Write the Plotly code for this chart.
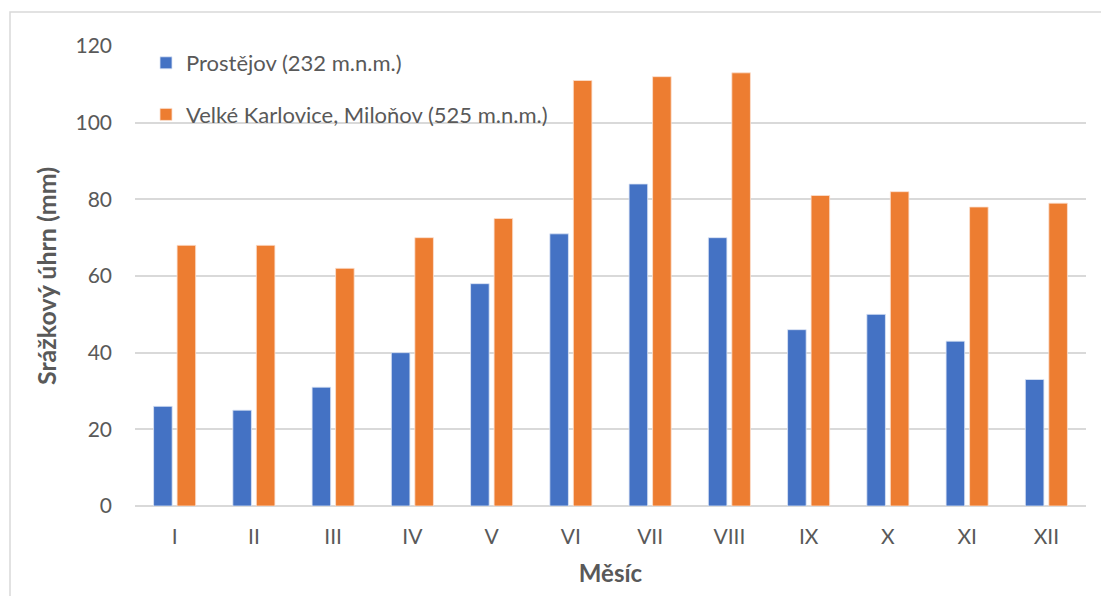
import plotly.graph_objects as go

# Monthly precipitation totals (mm)
months = ["I", "II", "III", "IV", "V", "VI", "VII", "VIII", "IX", "X", "XI", "XII"]
prostejov = [26, 25, 31, 40, 58, 71, 84, 70, 46, 50, 43, 33]
karlovice = [68, 68, 62, 70, 75, 111, 112, 113, 81, 82, 78, 79]

name_prostejov = "Prostějov (232 m.n.m.)"
name_karlovice = "Velké Karlovice, Miloňov (525 m.n.m.)"

W, H = 1101, 596
ML, MR, MT, MB = 135, 15, 46, 90

FONT = "Lato, Carlito, Calibri, sans-serif"
GRAY = "#595959"
GRID = "#D9D9D9"

fig = go.Figure()
fig.add_trace(go.Bar(
    x=months, y=prostejov, name=name_prostejov, legendgroup="a",
    marker=dict(color="#4472C4", line=dict(color="#DCE4F5", width=0.8)),
))
fig.add_trace(go.Bar(
    x=months, y=karlovice, name=name_karlovice, legendgroup="b",
    marker=dict(color="#ED7D31", line=dict(color="#FBE0CF", width=0.8)),
))

pw = W - ML - MR
ph = H - MT - MB
# outer chart frame
fig.add_shape(
    type="rect", xref="paper", yref="paper",
    x0=(10 - ML) / pw, x1=(W + 20 - ML) / pw,
    y0=-(H + 20 - MT - ph) / ph, y1=(ph + MT - 12) / ph,
    line=dict(color="#D9D9D9", width=1.5), fillcolor="rgba(0,0,0,0)", layer="below",
)

fig.update_layout(
    width=W, height=H,
    margin=dict(l=ML, r=MR, t=MT, b=MB),
    paper_bgcolor="white", plot_bgcolor="white",
    barmode="group", bargap=0.407, bargroupgap=0.21,
    font=dict(family=FONT, color=GRAY, size=21),
    legend=dict(
        x=11 / pw, y=1 + 4 / ph, xanchor="left", yanchor="top",
        bgcolor="rgba(0,0,0,0)", font=dict(size=22, color=GRAY),
        tracegroupgap=20, itemwidth=30,
    ),
    xaxis=dict(
        showgrid=False, showline=False, ticks="",
        tickfont=dict(size=21, color=GRAY), ticklabelstandoff=16,
        title=dict(text="<b>Měsíc</b>", font=dict(size=24, color=GRAY), standoff=18),
    ),
    yaxis=dict(
        range=[0, 120], dtick=20, tick0=0,
        showgrid=True, gridcolor=GRID, gridwidth=1.5,
        zeroline=True, zerolinecolor=GRID, zerolinewidth=1.5,
        showline=False, ticks="",
        tickfont=dict(size=21, color=GRAY), ticklabelstandoff=22,
        title=dict(text="<b>Srážkový úhrn (mm)</b>", font=dict(size=25, color=GRAY), standoff=11),
    ),
)

fig.write_html("out.html")
